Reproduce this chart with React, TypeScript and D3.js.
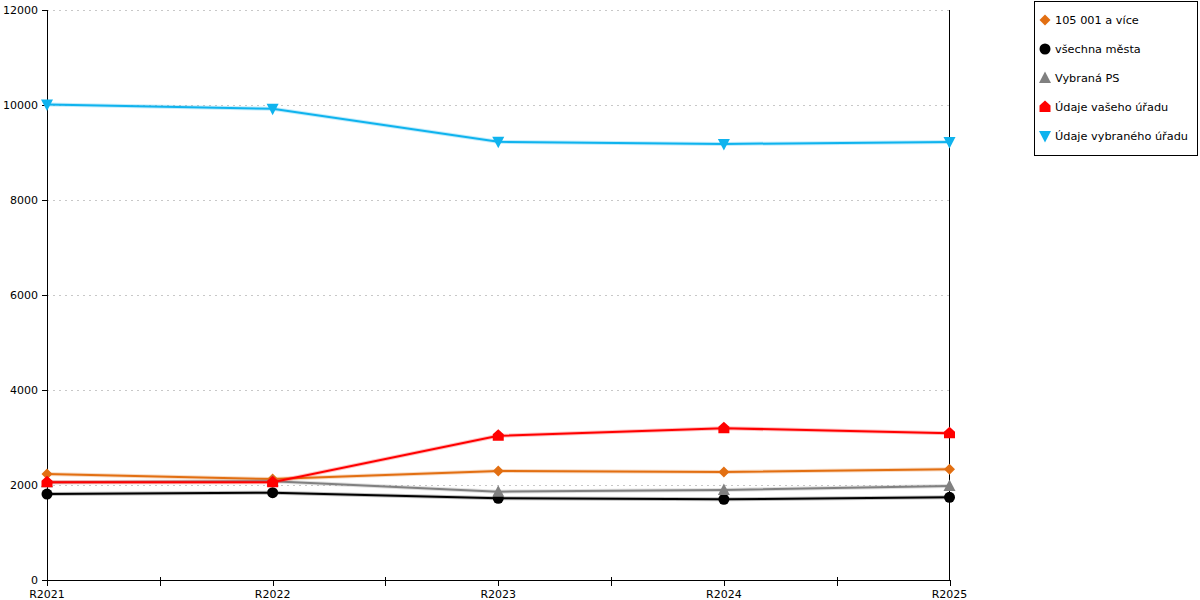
import React from "react";
import * as d3 from "d3";

const categories = ["R2021", "R2022", "R2023", "R2024", "R2025"];
const seriesNames = ["105 001 a více", "všechna města", "Vybraná PS", "Údaje vašeho úřadu", "Údaje vybraného úřadu"];
const seriesColors = ["#e26f12", "#000000", "#808080", "#ff0000", "#0fb3ee"];
const seriesMarkers = ["diamond", "circle", "triangleUp", "house", "triangleDown"];
const orangeValues = [2230, 2125, 2295, 2275, 2330];
const blackValues = [1810, 1838, 1720, 1698, 1740];
const grayValues = [2060, 2080, 1860, 1895, 1980];
const redValues = [2060, 2060, 3035, 3195, 3090];
const blueValues = [10010, 9920, 9225, 9180, 9220];
const yTicks = [0, 2000, 4000, 6000, 8000, 10000, 12000];

const seriesValues = [orangeValues, blackValues, grayValues, redValues, blueValues];

const FONT = "DejaVu Sans, Verdana, sans-serif";

function Marker({ type, x, y, color }: { type: string; x: number; y: number; color: string }) {
  if (type === "circle") return <circle cx={x} cy={y} r={5.5} fill={color} />;
  if (type === "diamond")
    return <path d={`M${x},${y - 5.5}L${x + 5.5},${y}L${x},${y + 5.5}L${x - 5.5},${y}Z`} fill={color} />;
  if (type === "triangleUp")
    return <path d={`M${x},${y - 6.5}L${x + 6},${y + 5}L${x - 6},${y + 5}Z`} fill={color} />;
  if (type === "triangleDown")
    return <path d={`M${x - 6},${y - 5}L${x + 6},${y - 5}L${x},${y + 6.5}Z`} fill={color} />;
  // house (pentagon)
  return (
    <path
      d={`M${x},${y - 6.5}L${x + 5.5},${y - 1.5}L${x + 5.5},${y + 5}L${x - 5.5},${y + 5}L${x - 5.5},${y - 1.5}Z`}
      fill={color}
    />
  );
}

export default function App() {
  const x = d3.scalePoint<string>().domain(categories).range([47, 949.5]);
  const y = d3.scaleLinear().domain([0, 12000]).range([580, 10]);
  const step = x.step();
  const minorTicks = categories.slice(0, -1).map((c) => (x(c) as number) + step / 2);
  const line = d3
    .line<number>()
    .x((_, i) => x(categories[i]) as number)
    .y((d) => y(d));

  return (
    <svg
      width={1200}
      height={600}
      style={{ position: "absolute", left: 0, top: 0, background: "#fff" }}
      fontFamily={FONT}
    >
      {/* grid */}
      {yTicks.slice(1).map((t) => (
        <line
          key={t}
          x1={47}
          x2={949.5}
          y1={Math.round(y(t)) + 0.5}
          y2={Math.round(y(t)) + 0.5}
          stroke="#c8c8c8"
          strokeDasharray="2,4"
        />
      ))}
      {/* y axis */}
      <line x1={47.5} x2={47.5} y1={10} y2={580} stroke="#000" />
      <line x1={949.5} x2={949.5} y1={10} y2={580} stroke="#000" />
      {yTicks.map((t) => (
        <g key={t}>
          <line x1={42} x2={47} y1={Math.round(y(t)) + 0.5} y2={Math.round(y(t)) + 0.5} stroke="#000" />
          <text x={38} y={y(t) + 4} textAnchor="end" fontSize={11} fill="#000">
            {t}
          </text>
        </g>
      ))}
      {/* x axis */}
      <line x1={47} x2={950} y1={580.5} y2={580.5} stroke="#000" />
      {categories.map((c) => (
        <g key={c}>
          <line x1={Math.round(x(c) as number) + 0.5} x2={Math.round(x(c) as number) + 0.5} y1={580} y2={586} stroke="#000" />
          <text x={x(c) as number} y={598} textAnchor="middle" fontSize={11} fill="#000">
            {c}
          </text>
        </g>
      ))}
      {minorTicks.map((m, i) => (
        <line key={i} x1={Math.round(m) + 0.5} x2={Math.round(m) + 0.5} y1={577} y2={586} stroke="#000" />
      ))}
      {/* series */}
      {seriesValues.map((vals, si) => (
        <g key={si}>
          <path d={line(vals) as string} fill="none" stroke={seriesColors[si]} strokeOpacity={0.25} strokeWidth={4} />
          <path d={line(vals) as string} fill="none" stroke={seriesColors[si]} strokeWidth={2} />
          {vals.map((v, i) => (
            <Marker key={i} type={seriesMarkers[si]} x={x(categories[i]) as number} y={y(v)} color={seriesColors[si]} />
          ))}
        </g>
      ))}
      {/* legend */}
      <rect x={1034.5} y={1.5} width={163} height={154} fill="#fff" stroke="#000" />
      {seriesNames.map((n, i) => (
        <g key={n}>
          <Marker type={seriesMarkers[i]} x={1045} y={20 + i * 29} color={seriesColors[i]} />
          <text x={1055} y={24 + i * 29} fontSize={11.3} fill="#000">
            {n}
          </text>
        </g>
      ))}
    </svg>
  );
}
